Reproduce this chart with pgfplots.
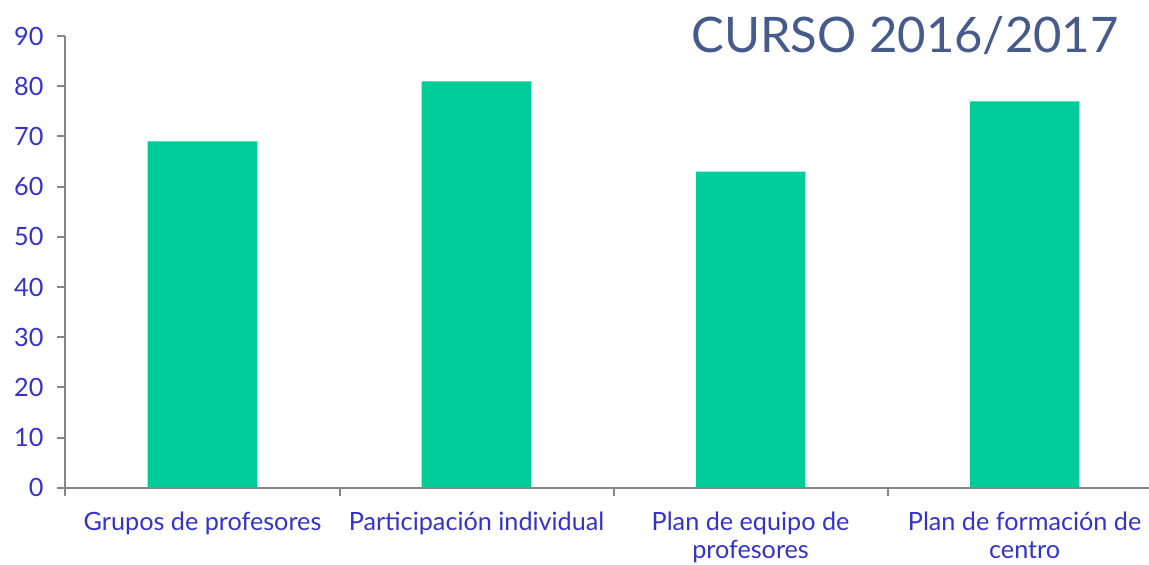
\documentclass[border=0pt]{standalone}
\usepackage{fontspec}
\setmainfont{Lato}
\usepackage{pgfplots}
\pgfplotsset{compat=1.18}
\definecolor{bargreen}{HTML}{00CC99}
\definecolor{labelblue}{HTML}{3333CC}
\definecolor{titleblue}{HTML}{465A8C}
\definecolor{axisgray}{HTML}{868686}
\begin{document}
\begin{tikzpicture}
\useasboundingbox (-32.75pt,-38.65pt) rectangle (541.75pt,243.85pt);
\begin{axis}[
    at={(0,0)}, anchor=south west,
    scale only axis,
    width=541.75pt, height=225.8pt,
    xmin=-0.5, xmax=3.454,
    ymin=0, ymax=90,
    ytick={0,10,...,90},
    axis lines=left,
    axis line style={-, draw=axisgray, line width=1pt},
    tick style={draw=axisgray, line width=1pt},
    tick align=outside,
    major tick length=4pt,
    xtick={-0.5,0.5,1.5,2.5},
    xticklabels={},
    extra x ticks={0,1,2,3},
    extra x tick labels={Grupos de profesores, Participación individual, {Plan de equipo de\\profesores}, {Plan de formación de\\centro}},
    extra x tick style={major tick length=0pt},
    xticklabel style={align=center, font=\fontsize{12.6}{14}\selectfont, text=labelblue, yshift=-8.5pt},
    yticklabel style={font=\fontsize{12.6}{15}\selectfont, text=labelblue, xshift=-3.5pt},
    /pgf/number format/assume math mode=true,
    ybar, bar width=54.8pt,
]
% participation values per modality
\addplot[fill=bargreen, draw=none] coordinates {(0,69) (1,81) (2,63) (3,77)};
\end{axis}
\node[anchor=base, text=titleblue, font=\fontsize{24.5}{28}\selectfont] at (419.75pt,217.6pt) {CURSO 2016/2017};
\end{tikzpicture}
\end{document}
